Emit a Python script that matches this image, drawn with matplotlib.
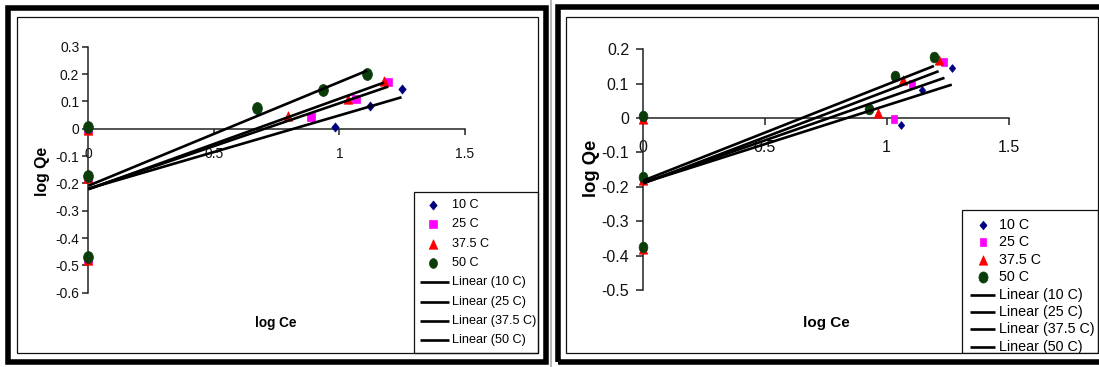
import numpy as np
import matplotlib
matplotlib.use('Agg')
import matplotlib.pyplot as plt
from matplotlib.path import Path
from matplotlib.patches import Rectangle
from matplotlib.lines import Line2D
from matplotlib.ticker import FuncFormatter

W, H = 1099, 367
FONT = ['Liberation Sans', 'DejaVu Sans']
plt.rcParams['font.family'] = FONT

# ── data ──
names = ['10 C', '25 C', '37.5 C', '50 C']

left_x = [
    [0, 0, 0, 0.982, 1.122, 1.248],
    [0, 0, 0, 0.889, 1.066, 1.195],
    [0, 0, 0, 0.797, 1.034, 1.178],
    [0, 0, 0, 0.671, 0.935, 1.111],
]
left_y = [
    [0.000, -0.175, -0.475, 0.005, 0.083, 0.144],
    [0.000, -0.178, -0.478, 0.042, 0.107, 0.172],
    [-0.005, -0.180, -0.480, 0.046, 0.110, 0.176],
    [0.005, -0.172, -0.470, 0.075, 0.140, 0.200],
]
right_x = [
    [0, 0, 0, 1.059, 1.146, 1.267],
    [0, 0, 0, 1.029, 1.105, 1.237],
    [0, 0, 0, 0.966, 1.066, 1.213],
    [0, 0, 0, 0.929, 1.036, 1.194],
]
right_y = [
    [0.000, -0.178, -0.378, -0.020, 0.082, 0.145],
    [0.000, -0.178, -0.378, -0.003, 0.098, 0.162],
    [-0.002, -0.180, -0.380, 0.014, 0.110, 0.169],
    [0.006, -0.170, -0.374, 0.026, 0.123, 0.178],
]

xticks = [0, 0.5, 1, 1.5]
left_yticks = [-0.6, -0.5, -0.4, -0.3, -0.2, -0.1, 0, 0.1, 0.2, 0.3]
right_yticks = [-0.5, -0.4, -0.3, -0.2, -0.1, 0, 0.1, 0.2]

colors = ['#000080', '#FF00FF', '#FF0000', '#0B3D0B']

# squeezed marker shapes (picture is a bit narrow horizontally)
sq = 0.82
circ = Path.unit_circle()
markers = [
    Path([(0, 0.5), (0.5 * sq, 0), (0, -0.5), (-0.5 * sq, 0), (0, 0.5)], closed=True),
    Path([(-0.5 * sq, -0.5), (0.5 * sq, -0.5), (0.5 * sq, 0.5), (-0.5 * sq, 0.5), (-0.5 * sq, -0.5)], closed=True),
    Path([(0, 0.5), (0.55 * sq, -0.5), (-0.55 * sq, -0.5), (0, 0.5)], closed=True),
    Path(circ.vertices * [sq, 1], circ.codes),
]


def fx(px):
    return px / W


def fy(py):
    return 1 - py / H


fig = plt.figure(figsize=(W / 100, H / 100), dpi=100)
fig.patch.set_facecolor('white')


def panel(rect, xs, ys, ylim, yticks, cfg):
    x0, ytop, x1, ybot = rect
    ax = fig.add_axes([fx(x0), fy(ybot), fx(x1) - fx(x0), fy(ytop) - fy(ybot)])
    ax.patch.set_alpha(0)
    ax.set_xlim(0, 1.5)
    ax.set_ylim(*ylim)
    for s in ['top', 'right']:
        ax.spines[s].set_visible(False)
    ax.spines['bottom'].set_position(('data', 0))
    for s in ['left', 'bottom']:
        ax.spines[s].set_color('#222222')
        ax.spines[s].set_linewidth(1.1)
    ax.set_xticks(xticks)
    ax.set_yticks(yticks)
    fmt = FuncFormatter(lambda v, p: '%g' % v)
    ax.xaxis.set_major_formatter(fmt)
    ax.yaxis.set_major_formatter(fmt)
    ax.tick_params(direction='out', length=cfg['tick'], width=1.1, color='#222222',
                   labelsize=cfg['fs'], labelcolor='#111111')
    ax.tick_params(axis='x', pad=cfg['xpad'])
    ax.tick_params(axis='y', pad=cfg['ypad'])

    for i in range(4):
        ax.plot(xs[i], ys[i], linestyle='none', marker=markers[i], ms=cfg['ms'][i],
                color=colors[i], mec=colors[i], mew=0.5, clip_on=False, zorder=3)
    for i in range(4):
        k, b = np.polyfit(xs[i], ys[i], 1)
        xx = np.array([min(xs[i]), max(xs[i])])
        ax.plot(xx, k * xx + b, color='black', lw=1.9, solid_capstyle='butt', zorder=4)
    return ax


cfg_l = dict(tick=4, fs=10, xpad=9.0, ypad=2.5, ms=[6.5, 6.3, 6.8, 8.6])
cfg_r = dict(tick=5, fs=11.5, xpad=10.5, ypad=4.9, ms=[5.6, 5.2, 6.7, 7.7])

panel((88.4, 46.7, 464.8, 292.7), left_x, left_y, (-0.6, 0.3), left_yticks, cfg_l)
panel((642.8, 49.3, 1008.6, 290.0), right_x, right_y, (-0.5, 0.2), right_yticks, cfg_r)

# axis titles
fig.text(fx(42), fy(171), 'log Qe', rotation=90, ha='center', va='center',
         fontsize=11.4, fontweight='bold')
fig.text(fx(276), fy(323), 'log Ce', ha='center', va='center', fontsize=9.8, fontweight='bold')
fig.text(fx(591), fy(168), 'log Qe', rotation=90, ha='center', va='center',
         fontsize=13.3, fontweight='bold')
fig.text(fx(826), fy(323), 'log Ce', ha='center', va='center', fontsize=11, fontweight='bold')


def legend(box, mx, lx0, lx1, tx, y0, dy, fs, ms):
    labels = names + ['Linear (%s)' % n for n in names]
    for i, lab in enumerate(labels):
        y = y0 + i * dy
        if i < 4:
            fig.add_artist(Line2D([fx(mx)], [fy(y)], transform=fig.transFigure, linestyle='none',
                                  marker=markers[i], ms=ms[i], color=colors[i], mec=colors[i], mew=0.5))
        else:
            fig.add_artist(Line2D([fx(lx0), fx(lx1)], [fy(y), fy(y)], transform=fig.transFigure,
                                  color='black', lw=1.9, solid_capstyle='butt'))
        fig.text(fx(tx), fy(y), lab, ha='left', va='center', fontsize=fs, color='black')
    x0, yt, x1, yb = box
    fig.add_artist(Rectangle((fx(x0), fy(yb)), fx(x1) - fx(x0), fy(yt) - fy(yb),
                             transform=fig.transFigure, fill=False, ec='#111111', lw=0.9, zorder=8))


legend((414, 192, 538, 353), 433, 420, 449, 452, 205, 19.3, 9.1, [6.5, 6.3, 6.8, 7.0])
legend((962, 210, 1098, 353), 983, 970, 995, 999, 225, 17.4, 10.3, [6.2, 5.6, 6.7, 8.0])

# cut legend text that runs below the plot area of the right chart
fig.add_artist(Rectangle((fx(955), fy(357)), fx(1099) - fx(955), fy(353.6) - fy(357),
                         transform=fig.transFigure, fc='white', ec='none', zorder=9))


def frame(x0, y0, x1, y1, lw, ec, z=10):
    fig.add_artist(Rectangle((fx(x0), fy(y1)), fx(x1) - fx(x0), fy(y0) - fy(y1),
                             transform=fig.transFigure, fill=False, ec=ec, lw=lw, zorder=z))


# chart areas
frame(16.5, 17, 538, 352.5, 0.9, '#111111')
frame(566, 17, 1098, 353, 0.9, '#111111')
# thick outer borders
frame(7.5, 7.5, 546, 361.5, 4.0, 'black')
frame(557.5, 7, 1110, 362, 4.0, 'black')
fig.add_artist(Line2D([fx(551), fx(551)], [0, 1], transform=fig.transFigure,
                      color='#AAAAAA', lw=1.2, zorder=10))

fig.savefig('out.png', dpi=100, facecolor='white')
